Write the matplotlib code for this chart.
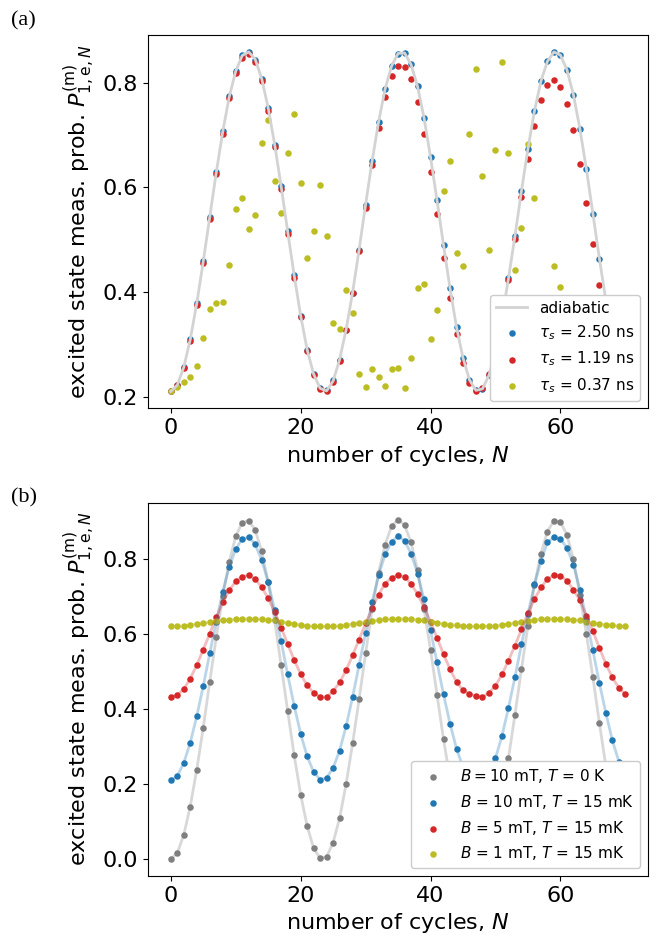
import matplotlib
matplotlib.use("Agg")
from matplotlib import pyplot as plt
import numpy as np

# number of cycles
cycles = np.arange(71)

# ---- panel (a): ramp time dependence ----
adiabatic = [0.210, 0.222, 0.256, 0.309, 0.378, 0.458, 0.543, 0.628, 0.706, 0.773,
             0.822, 0.852, 0.859, 0.845, 0.808, 0.752, 0.682, 0.602, 0.516, 0.432,
             0.355, 0.290, 0.243, 0.216, 0.211, 0.230, 0.271, 0.328, 0.399, 0.481,
             0.567, 0.650, 0.725, 0.788, 0.832, 0.856, 0.857, 0.835, 0.793, 0.733,
             0.658, 0.575, 0.490, 0.407, 0.333, 0.274, 0.232, 0.212, 0.215, 0.241,
             0.286, 0.350, 0.426, 0.507, 0.593, 0.674, 0.746, 0.803, 0.841, 0.859,
             0.853, 0.825, 0.777, 0.712, 0.635, 0.550, 0.464, 0.384, 0.313, 0.256, 0.221]

tau_250 = [0.211, 0.223, 0.257, 0.310, 0.379, 0.459, 0.544, 0.629, 0.707, 0.774,
           0.822, 0.853, 0.858, 0.844, 0.808, 0.752, 0.682, 0.602, 0.516, 0.432,
           0.355, 0.290, 0.244, 0.216, 0.212, 0.231, 0.271, 0.328, 0.399, 0.481,
           0.567, 0.650, 0.725, 0.788, 0.832, 0.855, 0.857, 0.835, 0.793, 0.733,
           0.658, 0.575, 0.490, 0.407, 0.333, 0.274, 0.232, 0.213, 0.215, 0.242,
           0.287, 0.350, 0.426, 0.507, 0.593, 0.674, 0.746, 0.803, 0.841, 0.858,
           0.853, 0.825, 0.777, 0.712, 0.635, 0.550, 0.464, 0.384, 0.313, 0.256, 0.222]

tau_119 = [0.210, 0.222, 0.255, 0.307, 0.376, 0.456, 0.540, 0.625, 0.703, 0.770,
           0.819, 0.848, 0.855, 0.840, 0.803, 0.747, 0.677, 0.596, 0.511, 0.427,
           0.352, 0.288, 0.242, 0.215, 0.211, 0.229, 0.269, 0.327, 0.398, 0.478,
           0.561, 0.642, 0.714, 0.772, 0.812, 0.833, 0.831, 0.807, 0.764, 0.703,
           0.630, 0.549, 0.466, 0.388, 0.319, 0.264, 0.227, 0.211, 0.217, 0.243,
           0.283, 0.348, 0.423, 0.502, 0.581, 0.655, 0.718, 0.767, 0.796, 0.805,
           0.792, 0.760, 0.710, 0.645, 0.570, 0.492, 0.414, 0.340, 0.280, 0.240, 0.218]

tau_037 = [0.210, 0.218, 0.229, 0.237, 0.258, 0.312, 0.368, 0.380, 0.381, 0.451,
           0.559, 0.580, 0.521, 0.548, 0.684, 0.728, 0.612, 0.551, 0.666, 0.740,
           0.609, 0.465, 0.516, 0.605, 0.508, 0.340, 0.329, 0.403, 0.359, 0.243,
           0.218, 0.253, 0.238, 0.220, 0.252, 0.254, 0.216, 0.273, 0.408, 0.415,
           0.310, 0.366, 0.594, 0.651, 0.474, 0.450, 0.702, 0.826, 0.621, 0.480,
           0.671, 0.839, 0.665, 0.443, 0.522, 0.683, 0.579, 0.330, 0.300, 0.449,
           0.410, 0.330, 0.290, 0.260, 0.230, 0.220, 0.240, 0.270, 0.300, 0.320, 0.310]

# ---- panel (b): field / temperature dependence ----
b10_t0 = [0.000, 0.016, 0.064, 0.140, 0.238, 0.350, 0.472, 0.591, 0.700, 0.792,
          0.860, 0.897, 0.902, 0.877, 0.820, 0.738, 0.636, 0.516, 0.395, 0.277,
          0.172, 0.088, 0.029, 0.002, 0.006, 0.044, 0.109, 0.200, 0.308, 0.426,
          0.548, 0.666, 0.763, 0.838, 0.887, 0.905, 0.890, 0.844, 0.770, 0.667,
          0.558, 0.438, 0.319, 0.215, 0.120, 0.050, 0.010, 0.000, 0.015, 0.060,
          0.130, 0.200, 0.269, 0.385, 0.506, 0.622, 0.730, 0.814, 0.873, 0.902,
          0.899, 0.864, 0.799, 0.703, 0.601, 0.484, 0.363, 0.247, 0.145, 0.070, 0.020]

b10_t15 = [0.210, 0.221, 0.256, 0.310, 0.380, 0.461, 0.548, 0.633, 0.712, 0.779,
           0.826, 0.853, 0.858, 0.839, 0.797, 0.738, 0.663, 0.580, 0.492, 0.409,
           0.334, 0.274, 0.232, 0.212, 0.216, 0.243, 0.289, 0.354, 0.432, 0.517,
           0.603, 0.685, 0.756, 0.812, 0.846, 0.860, 0.849, 0.814, 0.761, 0.692,
           0.610, 0.524, 0.439, 0.361, 0.294, 0.245, 0.220, 0.211, 0.218, 0.238,
           0.269, 0.328, 0.403, 0.485, 0.572, 0.654, 0.732, 0.794, 0.844, 0.858,
           0.854, 0.829, 0.785, 0.718, 0.641, 0.556, 0.469, 0.389, 0.316, 0.260, 0.225]

b5_t15 = [0.431, 0.437, 0.453, 0.481, 0.517, 0.558, 0.601, 0.644, 0.684, 0.716,
          0.740, 0.753, 0.756, 0.746, 0.725, 0.695, 0.659, 0.617, 0.573, 0.531,
          0.493, 0.463, 0.443, 0.432, 0.432, 0.447, 0.471, 0.503, 0.543, 0.585,
          0.628, 0.668, 0.705, 0.734, 0.750, 0.757, 0.752, 0.734, 0.706, 0.672,
          0.632, 0.590, 0.546, 0.506, 0.472, 0.450, 0.440, 0.434, 0.432, 0.443,
          0.462, 0.492, 0.529, 0.569, 0.612, 0.656, 0.692, 0.724, 0.746, 0.757,
          0.755, 0.742, 0.718, 0.690, 0.648, 0.607, 0.563, 0.520, 0.484, 0.456, 0.439]

b1_t15 = [0.620, 0.620, 0.622, 0.624, 0.627, 0.629, 0.632, 0.635, 0.636, 0.638,
          0.639, 0.640, 0.640, 0.640, 0.639, 0.637, 0.636, 0.633, 0.630, 0.627,
          0.624, 0.622, 0.621, 0.620, 0.620, 0.621, 0.622, 0.624, 0.627, 0.630,
          0.633, 0.635, 0.637, 0.639, 0.640, 0.640, 0.640, 0.639, 0.638, 0.636,
          0.633, 0.630, 0.627, 0.625, 0.623, 0.621, 0.620, 0.620, 0.620, 0.621,
          0.622, 0.624, 0.627, 0.630, 0.633, 0.635, 0.637, 0.639, 0.640, 0.640,
          0.640, 0.639, 0.638, 0.636, 0.633, 0.630, 0.627, 0.625, 0.623, 0.621, 0.620]

ylabel = r'excited state meas. prob. $P^{(\mathrm{m})}_{1,\mathrm{e},N}$'
xlabel = r'number of cycles, $N$'

fig, (ax1, ax2) = plt.subplots(2, 1, figsize=(6.62, 9.44), dpi=100)
fig.subplots_adjust(left=0.2236, right=0.979, top=0.963, bottom=0.072, hspace=0.252)

ms = 22

# panel (a)
ax1.plot(cycles, adiabatic, color='lightgray', lw=2, label='adiabatic')
ax1.scatter(cycles, tau_250, s=ms, color='tab:blue', lw=0, label=r'$\tau_s$ = 2.50 ns')
ax1.scatter(cycles, tau_119, s=ms, color='tab:red', lw=0, label=r'$\tau_s$ = 1.19 ns')
ax1.scatter(cycles, tau_037, s=ms, color='tab:olive', lw=0, label=r'$\tau_s$ = 0.37 ns')
ax1.legend(loc='lower right', fontsize=11, framealpha=1)

# panel (b)
series_b = [
    (b10_t0, 'tab:gray', r'$B = 10$ mT, $T$ = 0 K'),
    (b10_t15, 'tab:blue', r'$B$ = 10 mT, $T$ = 15 mK'),
    (b5_t15, 'tab:red', r'$B$ = 5 mT, $T$ = 15 mK'),
    (b1_t15, 'tab:olive', r'$B$ = 1 mT, $T$ = 15 mK'),
]
for vals, c, lab in series_b:
    ax2.plot(cycles, vals, color=c, lw=2, alpha=0.3)
for vals, c, lab in series_b:
    ax2.scatter(cycles, vals, s=ms, color=c, lw=0, label=lab)
ax2.legend(loc='lower right', fontsize=11, framealpha=1)

for ax in (ax1, ax2):
    ax.set_xlabel(xlabel, fontsize=16)
    ax.set_ylabel(ylabel, fontsize=16)
    ax.tick_params(labelsize=16)
    ax.set_xticks([0, 20, 40, 60])

ax1.set_yticks([0.2, 0.4, 0.6, 0.8])
ax2.set_yticks([0.0, 0.2, 0.4, 0.6, 0.8])

fig.text(0.016, 0.988, '(a)', family='Liberation Serif', fontsize=16, va='top')
fig.text(0.016, 0.483, '(b)', family='Liberation Serif', fontsize=16, va='top')

fig.savefig('out.png', dpi=100)
